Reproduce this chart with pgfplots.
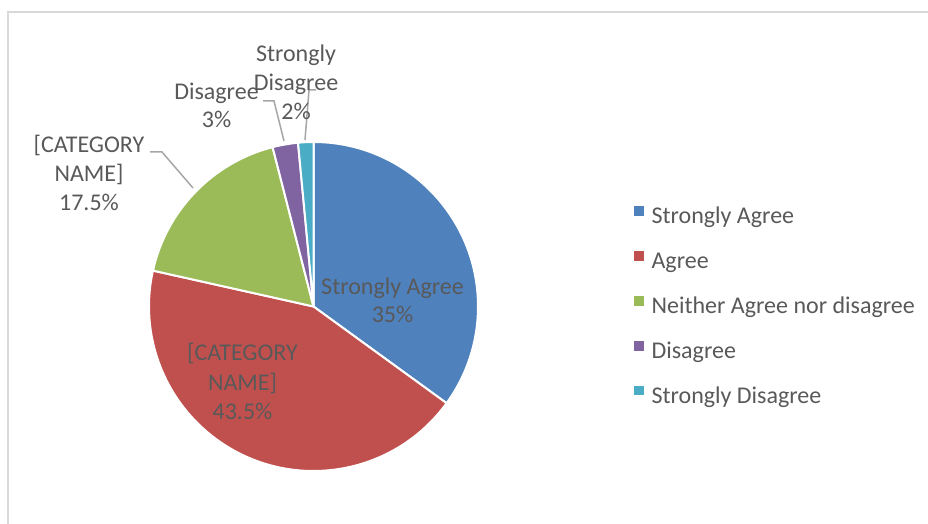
\documentclass[border=0pt]{standalone}
\usepackage{pgfplots}
\usepackage{pgfplotstable}
\pgfplotsset{compat=1.18}
\usepackage{fontspec}
\setmainfont{Carlito}
\definecolor{cSA}{HTML}{4F81BD}
\definecolor{cAG}{HTML}{C0504D}
\definecolor{cNE}{HTML}{9BBB59}
\definecolor{cDI}{HTML}{8064A2}
\definecolor{cSD}{HTML}{4BACC6}
\definecolor{txt}{HTML}{595959}
\definecolor{lead}{HTML}{A6A6A6}
\definecolor{frame}{HTML}{D9D9D9}
\pgfplotstableread{
label value
{Strongly Agree} 35
Agree 43.5
{Neither Agree nor disagree} 17.5
Disagree 2.5
{Strongly Disagree} 1.5
}\piedata
\begin{document}
\begin{tikzpicture}
% cumulative angles (clockwise from 12 o'clock)
\def\cumsum{0}
\pgfplotsforeachungrouped \i in {0,...,4}{%
  \pgfplotstablegetelem{\i}{value}\of\piedata
  \pgfmathsetmacro\s{90-3.6*\cumsum}%
  \expandafter\xdef\csname ang\ifcase\i A\or B\or C\or D\or E\fi\endcsname{\s}%
  \pgfmathsetmacro\newcum{\cumsum+\pgfplotsretval}%
  \global\let\cumsum\newcum
}
\pgfmathsetmacro\s{90-3.6*\cumsum}
\xdef\angF{\s}
\def\R{82.25pt}
\begin{axis}[
  hide axis, clip=false,
  x=0.5pt, y=0.5pt,
  xmin=0, xmax=928, ymin=0, ymax=524,
  legend image code/.code={\fill[#1] (0pt,1.5pt) rectangle (4.4pt,5.8pt);},
  legend style={at={(axis cs:634,317.7)}, anchor=north west,
    draw=none, fill=none, inner sep=0pt, outer sep=0pt,
    font=\fontsize{12}{14.5}\selectfont, text=txt,
    row sep=11.2pt, column sep=4pt,
    nodes={inner sep=0pt, text height=8pt, text depth=2.5pt}},
  legend cell align=left,
]
% frame
\addplot[forget plot, color=frame, line width=1pt] coordinates {(928,512) (8,512) (8,0)};
% slices
\addplot[forget plot, fill=cSA, draw=white, line width=1pt] coordinates {(313.5,217.5)} -- ++(\angA:\R) arc[start angle=\angA, end angle=\angB, radius=\R] -- cycle;
\addplot[forget plot, fill=cAG, draw=white, line width=1pt] coordinates {(313.5,217.5)} -- ++(\angB:\R) arc[start angle=\angB, end angle=\angC, radius=\R] -- cycle;
\addplot[forget plot, fill=cNE, draw=white, line width=1pt] coordinates {(313.5,217.5)} -- ++(\angC:\R) arc[start angle=\angC, end angle=\angD, radius=\R] -- cycle;
\addplot[forget plot, fill=cDI, draw=white, line width=1pt] coordinates {(313.5,217.5)} -- ++(\angD:\R) arc[start angle=\angD, end angle=\angE, radius=\R] -- cycle;
\addplot[forget plot, fill=cSD, draw=white, line width=1pt] coordinates {(313.5,217.5)} -- ++(\angE:\R) arc[start angle=\angE, end angle=\angF, radius=\R] -- cycle;
% leader lines
\addplot[forget plot, color=lead, line width=0.75pt] coordinates {(150,372) (162,372) (193,336)};
\addplot[forget plot, color=lead, line width=0.75pt] coordinates {(263,423) (274,423) (284,383)};
\addplot[forget plot, color=lead, line width=0.75pt] coordinates {(316,434) (309,434) (305,384)};
% data labels
\begin{scope}[every node/.style={anchor=base, text=txt, font=\fontsize{12}{14.5}\selectfont, inner sep=0pt}]
\node at (axis cs:392.5,229) {Strongly Agree};
\node at (axis cs:392.5,201) {35\%};
\node at (axis cs:242.5,163) {[CATEGORY};
\node at (axis cs:242.5,133) {NAME]};
\node at (axis cs:242.5,104) {43.5\%};
\node at (axis cs:89,371) {[CATEGORY};
\node at (axis cs:89,342) {NAME]};
\node at (axis cs:89,313) {17.5\%};
\node at (axis cs:216.5,424) {Disagree};
\node at (axis cs:216.5,396) {3\%};
\node at (axis cs:296,462) {Strongly};
\node at (axis cs:296,433) {Disagree};
\node at (axis cs:296,404) {2\%};
\end{scope}
% legend
\addlegendimage{cSA}\addlegendentry{Strongly Agree}
\addlegendimage{cAG}\addlegendentry{Agree}
\addlegendimage{cNE}\addlegendentry{Neither Agree nor disagree}
\addlegendimage{cDI}\addlegendentry{Disagree}
\addlegendimage{cSD}\addlegendentry{Strongly Disagree}
\end{axis}
\pgfresetboundingbox
\path (0,0) rectangle (464pt,262pt);
\end{tikzpicture}
\end{document}
